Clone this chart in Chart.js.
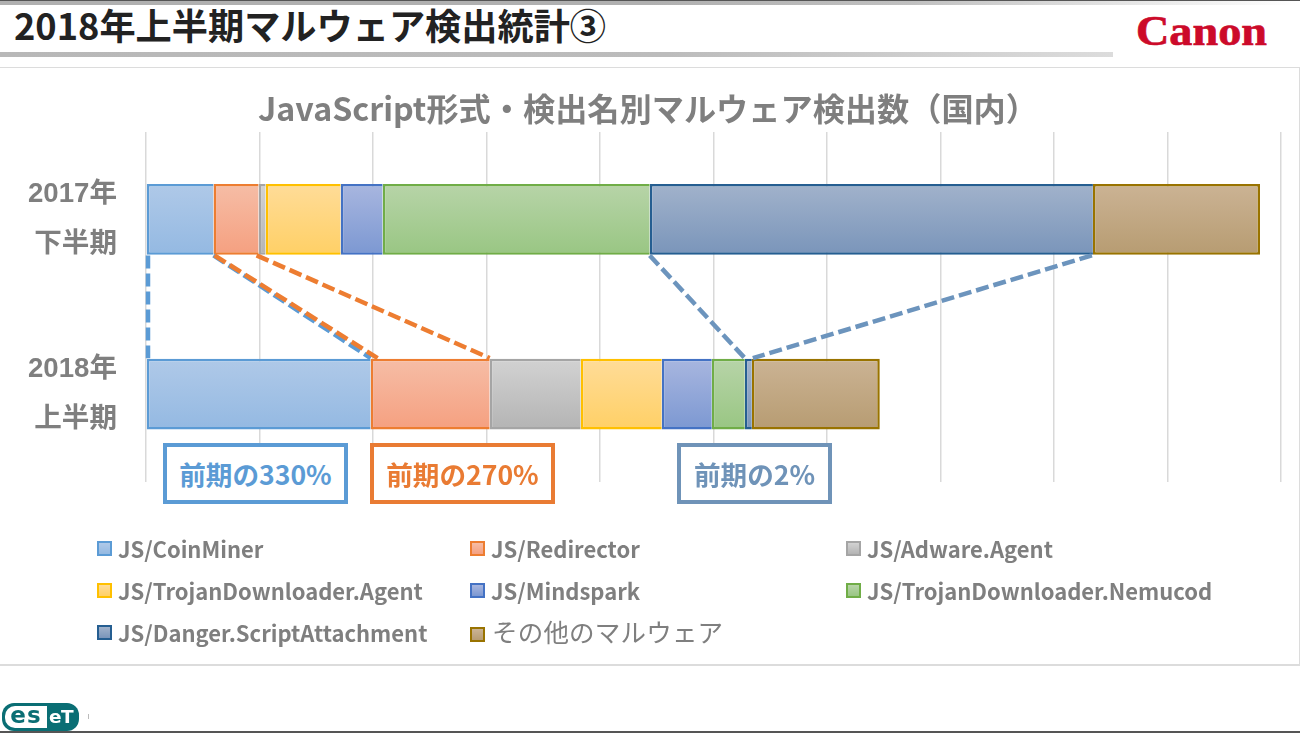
<!DOCTYPE html>
<html lang="ja">
<head>
<meta charset="utf-8">
<script src="https://cdn.jsdelivr.net/npm/chart.js@4/dist/chart.umd.min.js"></script>
<style>
html,body{margin:0;padding:0;background:#fff;overflow:hidden}
#stage{position:relative;width:1300px;height:733px;overflow:hidden;font-family:"Noto Sans CJK JP","Noto Sans",sans-serif}
#stage>*{position:absolute}
canvas{left:0;top:0}
.panel{left:-1px;top:67px;width:1299px;height:596px;border:1px solid #dcdcdc;border-bottom:2px solid #dcdcdc;background:#fff}
.topbar{left:0;top:1px;width:1300px;height:4px;background:linear-gradient(90deg,#b0b0b0 0,#b0b0b0 50%,#c0c0c0 70%,#e8e8e8 88%,#fff 100%)}
.topline{left:0;top:0;width:1300px;height:1px;background:#555}
.subbar{left:0;top:52px;width:1113px;height:5px;background:linear-gradient(90deg,#b8b8b8 0,#bcbcbc 60%,#dcdcdc 100%)}
.botline{left:0;top:731px;width:1300px;height:2px;background:#555}
.head{left:14px;top:-1px;font-size:36.2px;font-weight:700;color:#222;line-height:50px;white-space:nowrap}
.canon{left:1136px;top:9px;font-family:"Liberation Serif",serif;font-weight:700;font-size:42px;line-height:44px;color:#cc0a2a;-webkit-text-stroke:.7px #cc0a2a;transform:scaleX(1.1);transform-origin:left}
.eset{left:2px;top:703px;width:77px;height:28px;border-radius:12px;background:#0a6e74;overflow:hidden;font:700 23px/26px "DejaVu Sans",sans-serif}
.eset b{position:absolute;left:3px;top:3px;width:42px;height:22px;border-radius:10px 0 0 10px;background:#fff;color:#0a6e74;line-height:19px;text-align:center;letter-spacing:1px}
.eset u{position:absolute;left:47px;top:1px;color:#fff;text-decoration:none;font-size:18.5px;letter-spacing:-.5px}
.tick{left:88px;top:714px;width:1px;height:5px;background:#bbb}
.call{box-sizing:border-box;top:443px;height:61px;background:#fff;border:4px solid;font-size:26.6px;font-weight:700;display:flex;align-items:center;justify-content:center;white-space:nowrap}
.lg{display:flex;align-items:center;height:30px;color:#7f7f7f;font-size:22px;font-weight:700;white-space:nowrap}
.lg i{display:block;box-sizing:border-box;width:15px;height:15px;border:2px solid;margin-right:6px}
.lg.jp{font-weight:400;font-size:25.5px;letter-spacing:.2px;margin-top:-2px}
.lg.jp i{margin-right:7px;margin-top:8px}
</style>
</head>
<body>
<div id="stage">
  <div class="topline"></div><div class="topbar"></div>
  <div class="head">2018年上半期マルウェア検出統計③</div>
  <div class="subbar"></div>
  <div class="canon">Canon</div>
  <div class="panel"></div>
  <canvas id="c" width="1300" height="733" style="width:1300px;height:733px"></canvas>
  <div class="botline"></div>
  <div class="eset"><b>es</b><u>eT</u></div>
  <div class="tick"></div>
</div>
<script>
const categories = [["2017年","下半期"],["2018年","上半期"]];
const seriesNames = ["JS/CoinMiner","JS/Redirector","JS/Adware.Agent","JS/TrojanDownloader.Agent","JS/Mindspark","JS/TrojanDownloader.Nemucod","JS/Danger.ScriptAttachment","その他のマルウェア"];
const coinMiner = [59.5,197.9];
const redirector = [39.7,104.9];
const adwareAgent = [6.2,80.2];
const trojanAgent = [66.1,71.4];
const mindspark = [37.0,44.1];
const nemucod = [235.3,29.1];
const dangerScript = [390.5,6.2];
const others = [147.2,112.7];
const seriesValues = [coinMiner,redirector,adwareAgent,trojanAgent,mindspark,nemucod,dangerScript,others];
const chartTitle = "JavaScript形式・検出名別マルウェア検出数（国内）";
const calloutTexts = ["前期の330%","前期の270%","前期の2%"];

const borders = ["#5B9BD5","#ED7D31","#A5A5A5","#FFC000","#4472C4","#70AD47","#255E91","#997300"];
const fillsTop = ["#AFC9E8","#F6BDA6","#D2D2D2","#FFDC98","#A8B6DF","#B7D4A8","#A1B2CB","#CBB394"];
const fillsBot = ["#94B9E2","#F5A080","#B4B4B4","#FFD066","#7C98D2","#99C683","#7A95BA","#B79C72"];

function barFill(i){
  return function(ctx){
    const sc = ctx.chart.scales.y;
    const y = sc ? sc.getPixelForValue(ctx.dataIndex) : NaN;
    if(!Number.isFinite(y)) return fillsBot[i];
    const g = ctx.chart.ctx.createLinearGradient(0,y-35,0,y+35);
    g.addColorStop(0,fillsTop[i]); g.addColorStop(1,fillsBot[i]);
    return g;
  };
}
const cum = (s,c)=>{let t=0;for(let k=0;k<=s;k++)t+=seriesValues[k][c];return t;};

/* connectors: [series edge in 2017 (-1 = axis start), series edge in 2018, colour, px offset at start, px offset at end] */
const connectors = [
  [-1,-1,"#5B9BD5",2,2],
  [0,0,"#5B9BD5",0,0],
  [0,0,"#ED7D31",1,7],
  [1,1,"#ED7D31",-2,0],
  [5,5,"#6C94BD",0,0],
  [6,6,"#6C94BD",-1,1]
];
const connectorPlugin = {
  id:"connectors",
  afterDatasetsDraw(chart){
    const {ctx,scales:{x,y}} = chart;
    const half = 35;
    const y0 = y.getPixelForValue(0)+half+1, y1 = y.getPixelForValue(1)-half-1;
    ctx.save();
    ctx.lineWidth = 4.5; ctx.setLineDash([13,5]); ctx.lineCap="butt";
    connectors.forEach(([a,b,col,o0,o1])=>{
      const xa = x.getPixelForValue(a<0?0:cum(a,0))+o0;
      const xb = x.getPixelForValue(b<0?0:cum(b,1))+o1;
      ctx.strokeStyle = col;
      ctx.beginPath(); ctx.moveTo(xa,y0); ctx.lineTo(xb,y1); ctx.stroke();
    });
    ctx.restore();
  }
};

new Chart(document.getElementById("c"),{
  type:"bar",
  data:{
    labels:categories,
    datasets:seriesNames.map((n,i)=>({
      label:n,
      data:seriesValues[i],
      backgroundColor:barFill(i),
      borderColor:borders[i],
      borderWidth:2.5,
      borderSkipped:i===seriesNames.length-1?false:"end",
      inflateAmount:0,
      barPercentage:0.405,
      categoryPercentage:1
    }))
  },
  options:{
    indexAxis:"y",
    responsive:false,
    animation:false,
    layout:{padding:{left:15,right:19,top:0,bottom:251.5}},
    plugins:{
      legend:{display:false},
      tooltip:{enabled:false},
      title:{display:true,text:chartTitle,color:"#7f7f7f",
        font:{family:'"Noto Sans CJK JP"',size:32.2,weight:"700",lineHeight:1.2},
        padding:{top:89,bottom:4.4}}
    },
    scales:{
      x:{stacked:true,min:0,max:1000,
        afterFit(s){s.height=0;},
        ticks:{display:false,stepSize:100},
        border:{display:false},
        grid:{color:"#d9d9d9",lineWidth:1.5,drawTicks:false}},
      y:{stacked:true,
        afterFit(s){s.width=131;},
        border:{display:false},
        grid:{display:false,drawTicks:false},
        ticks:{color:"#7f7f7f",padding:29,labelOffset:0,
          font:{family:'"Liberation Sans","Noto Sans CJK JP"',size:27.6,weight:"700",lineHeight:1.81}}}
    }
  },
  plugins:[connectorPlugin]
});

/* overlay text: callouts and legend */
const overlay = document.getElementById("stage");
const calloutBoxes = [[163,185,"#5B9BD5"],[370,185,"#E97B33"],[677,155,"#6F93B8"]];
calloutTexts.forEach((t,i)=>{
  const d=document.createElement("div");
  d.className="call"; d.textContent=t;
  d.style.left=calloutBoxes[i][0]+"px"; d.style.width=calloutBoxes[i][1]+"px";
  d.style.borderColor=calloutBoxes[i][2]; d.style.color=calloutBoxes[i][2];
  overlay.appendChild(d);
});
const colX=[97,470,846], rowY=[533,575,617];
seriesNames.forEach((n,i)=>{
  const d=document.createElement("div");
  d.className="lg"+(i===7?" jp":"");
  d.style.left=colX[i%3]+"px"; d.style.top=rowY[Math.floor(i/3)]+"px";
  const sw=document.createElement("i");
  sw.style.borderColor=borders[i];
  sw.style.background="linear-gradient("+fillsTop[i]+","+fillsBot[i]+")";
  d.appendChild(sw); d.appendChild(document.createTextNode(n));
  overlay.appendChild(d);
});
</script>
</body>
</html>
